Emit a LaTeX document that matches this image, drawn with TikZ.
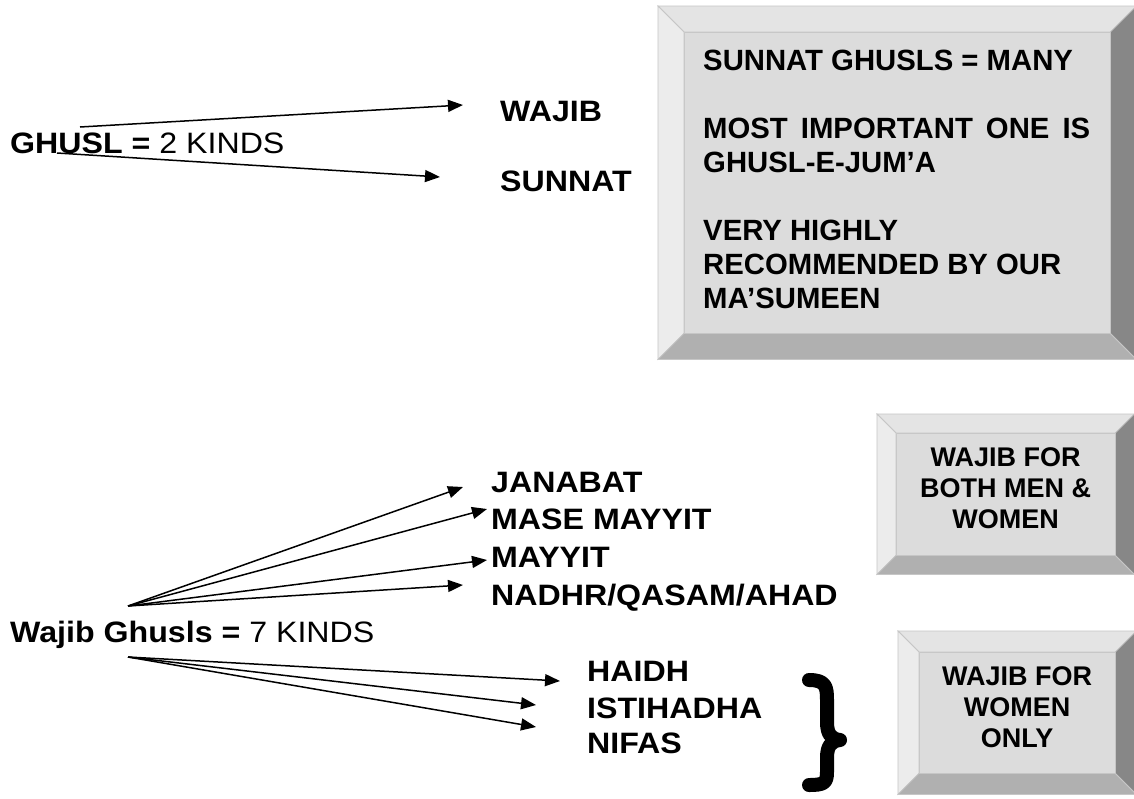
\documentclass[tikz,border=0pt]{standalone}
\usepackage{fontspec}
\setmainfont{Liberation Sans}
\newfontfamily\widefont[FakeStretch=1.09]{Liberation Sans}
\usetikzlibrary{arrows.meta}
\definecolor{bevtop}{HTML}{E4E4E4}
\definecolor{bevleft}{HTML}{ECECEC}
\definecolor{bevface}{HTML}{DCDCDC}
\definecolor{bevbot}{HTML}{B0B0B0}
\definecolor{bevright}{HTML}{878787}
\definecolor{bevline}{HTML}{C6C6C6}

% four bevel faces round a face node: #1 node, #2 depth
\newcommand{\bevelframe}[2]{%
  \filldraw[bevel, fill=bevtop] (#1.north west) -- ([shift={(-#2,-#2)}]#1.north west) -- ([shift={(#2,-#2)}]#1.north east) -- (#1.north east) -- cycle;
  \filldraw[bevel, fill=bevleft] (#1.north west) -- ([shift={(-#2,-#2)}]#1.north west) -- ([shift={(-#2,#2)}]#1.south west) -- (#1.south west) -- cycle;
  \filldraw[bevel, fill=bevbot] (#1.south west) -- ([shift={(-#2,#2)}]#1.south west) -- ([shift={(#2,#2)}]#1.south east) -- (#1.south east) -- cycle;
  \filldraw[bevel, fill=bevright] (#1.north east) -- ([shift={(#2,-#2)}]#1.north east) -- ([shift={(#2,#2)}]#1.south east) -- (#1.south east) -- cycle;
}

\begin{document}
\begin{tikzpicture}[x=1pt, y=-1pt,
  lbl/.style={font=\widefont\fontsize{29.5}{34}\selectfont\bfseries, inner sep=0pt, anchor=base west},
  face/.style={draw=bevline, fill=bevface, inner sep=0pt, anchor=north west},
  bevel/.style={draw=bevline, line width=0.8pt},
  boxtxt/.style={font=\fontsize{27}{31}\selectfont\bfseries, align=center, inner sep=0pt},
  arr/.style={-{Triangle[length=15pt,width=12pt]}, line width=1.5pt},
  brc/.style={line width=14pt, line cap=round, line join=round}]
\fill[white] (0,0) rectangle (1134,798);
\useasboundingbox (0,0) rectangle (1134,798);

% bevelled boxes
\node[face, minimum width=426pt, minimum height=301pt] (sface) at (684,32) {};
\bevelframe{sface}{26}
\node[face, minimum width=219pt, minimum height=122pt] (bface) at (896,433) {};
\bevelframe{bface}{19}
\node[face, minimum width=196pt, minimum height=121pt] (wface) at (919,652) {};
\bevelframe{wface}{21}

\node[font=\fontsize{29.3}{34}\selectfont\bfseries, align=left, inner sep=0pt, anchor=north west] (stxt) at (703,50)
  {SUNNAT GHUSLS = MANY\\[34pt]
   \hbox to 387pt{MOST\hfil IMPORTANT\hfil ONE\hfil IS}\\
   GHUSL-E-JUM’A\\[34pt]
   VERY HIGHLY\\
   RECOMMENDED BY OUR\\
   MA’SUMEEN};
\node[boxtxt, yshift=6pt] (btxt) at (bface.center) {WAJIB FOR\\BOTH MEN \&\\WOMEN};
\node[boxtxt, yshift=6pt] (wtxt) at (wface.center) {WAJIB FOR\\WOMEN\\ONLY};

% two kinds
\node[lbl] (ghusl) at (10,153) {GHUSL = \mdseries 2 KINDS};
\node[lbl] (wajib) at (500,121) {WAJIB};
\node[lbl] (sunnat) at (500,191) {SUNNAT};
\coordinate (g1) at ([shift={(70,-26)}]ghusl.base west);
\coordinate (g2) at ([shift={(47,0)}]ghusl.base west);
\draw[arr] (g1) -- ([shift={(-37,-16)}]wajib.base west);
\draw[arr] (g2) -- ([shift={(-60,-14)}]sunnat.base west);

% seven kinds
\node[lbl] (wg) at (10,642) {Wajib Ghusls = \mdseries 7 KINDS};
\node[lbl] (jan) at (491,492) {JANABAT};
\node[lbl] (mase) at (491,529) {MASE MAYYIT};
\node[lbl] (may) at (491,567) {MAYYIT};
\node[lbl] (nadhr) at (491,605) {NADHR/QASAM/AHAD};
\node[lbl] (haidh) at (587,681) {HAIDH};
\node[lbl] (isti) at (587,718) {ISTIHADHA};
\node[lbl] (nifas) at (587,753) {NIFAS};
\coordinate (wup) at ([shift={(118,-36)}]wg.base west);
\coordinate (wdn) at ([shift={(118,15)}]wg.base west);
\draw[arr] (wup) -- ([shift={(-28,-5)}]jan.base west);
\draw[arr] (wup) -- ([shift={(-4,-20)}]mase.base west);
\draw[arr] (wup) -- ([shift={(-4,-7)}]may.base west);
\draw[arr] (wup) -- ([shift={(-28,-20)}]nadhr.base west);
\draw[arr] (wdn) -- ([shift={(-27,0)}]haidh.base west);
\draw[arr] (wdn) -- ([shift={(-51,-13)}]isti.base west);
\draw[arr] (wdn) -- ([shift={(-51,-26)}]nifas.base west);

% brace for the women-only kinds
\draw[brc] (809,680) .. controls (826,680) and (827,687) .. (827,700) -- (827,722)
  .. controls (827,734) and (831,739) .. (840,740)
  .. controls (831,741) and (827,746) .. (827,758) -- (827,772)
  .. controls (827,783) and (824,785) .. (809,785);
\end{tikzpicture}
\end{document}
